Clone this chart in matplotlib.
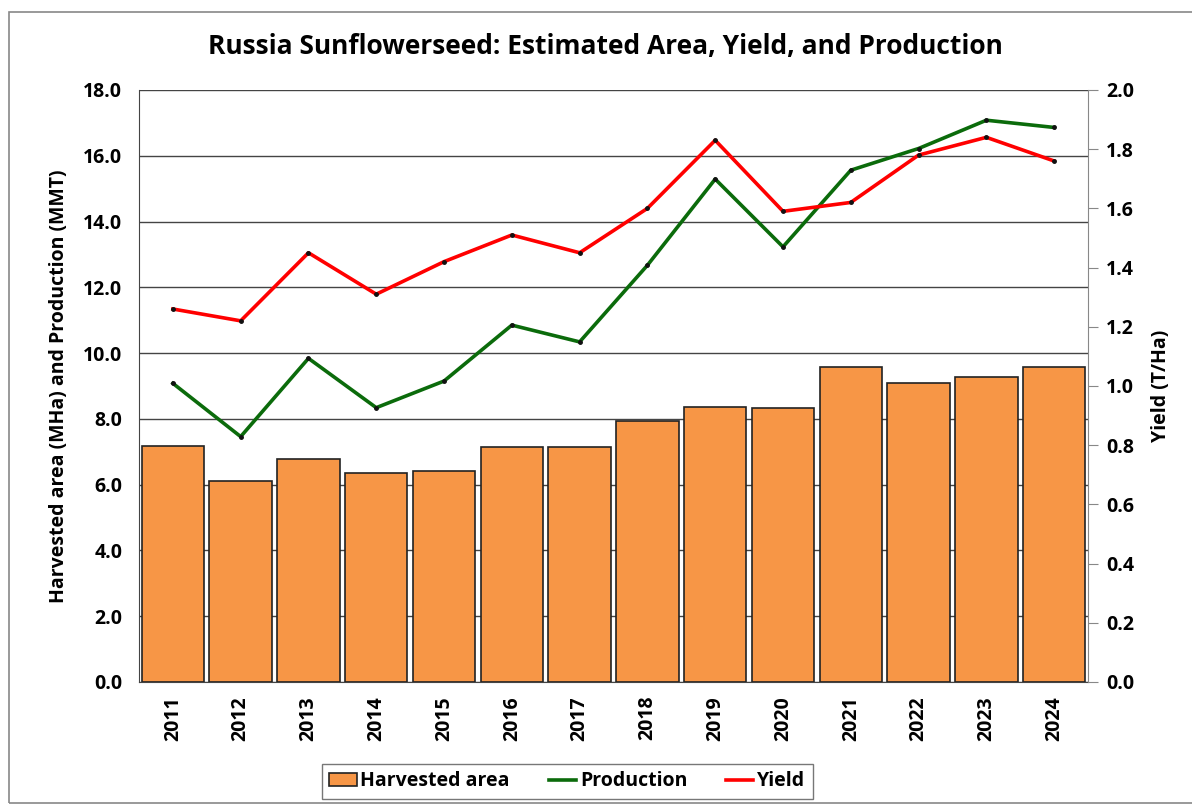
import numpy as np
import matplotlib.pyplot as plt
from matplotlib.patches import Rectangle
from matplotlib.lines import Line2D
from matplotlib.patches import Patch

plt.rcParams['font.family'] = ['Open Sans', 'DejaVu Sans']
plt.rcParams['font.weight'] = 'bold'

# Data
years = ["2011", "2012", "2013", "2014", "2015", "2016", "2017",
         "2018", "2019", "2020", "2021", "2022", "2023", "2024"]
area = [7.17, 6.12, 6.78, 6.35, 6.43, 7.15, 7.13,
        7.95, 8.35, 8.32, 9.58, 9.10, 9.26, 9.58]
production = [9.08, 7.46, 9.84, 8.34, 9.15, 10.85, 10.34,
              12.67, 15.29, 13.23, 15.56, 16.22, 17.08, 16.86]
yield_t_ha = [1.26, 1.22, 1.45, 1.31, 1.42, 1.51, 1.45,
              1.60, 1.83, 1.59, 1.62, 1.78, 1.84, 1.76]

left_ticks = np.arange(0, 18.1, 2.0)
right_ticks = np.arange(0, 2.01, 0.2)

fig = plt.figure(figsize=(11.92, 8.09), dpi=100)
ax = fig.add_axes([0.1166, 0.157, 0.7962, 0.7318])
x = np.arange(len(years))

# Bars for harvested area, line for production
ax.bar(x, area, width=0.92, color="#f79646", edgecolor="#222222",
       linewidth=1.2, zorder=2)
ax.plot(x, production, color="#0b6b0b", linewidth=2.6, zorder=3,
        marker="o", markersize=2.5, markerfacecolor="#111111",
        markeredgecolor="#111111")

ax.set_xlim(-0.5, len(years) - 0.5)
ax.set_ylim(0, 18)
ax.set_yticks(left_ticks)
ax.set_yticklabels([f"{v:.1f}" for v in left_ticks], fontsize=14, fontweight="bold")
ax.set_xticks(x)
ax.set_xticklabels(years, rotation=90, fontsize=14, fontweight="bold")
ax.tick_params(axis="x", length=0, pad=10)
ax.tick_params(axis="y", length=0, pad=12)
ax.yaxis.grid(True, color="#444444", linewidth=1.0, zorder=0)
ax.set_axisbelow(True)
for side in ["top", "right"]:
    ax.spines[side].set_visible(False)
ax.spines["left"].set_color("#444444")
ax.spines["bottom"].set_color("#444444")
ax.set_ylabel("Harvested area (MHa) and Production (MMT)", fontsize=14,
              fontweight="bold", labelpad=10)

# Yield on the secondary axis
ax2 = ax.twinx()
ax2.plot(x, yield_t_ha, color="#ff0000", linewidth=2.6, zorder=3,
         marker="o", markersize=2.5, markerfacecolor="#111111",
         markeredgecolor="#111111")
ax2.set_ylim(0, 2.0)
ax2.set_yticks(right_ticks)
ax2.set_yticklabels([f"{v:.1f}" for v in right_ticks], fontsize=14, fontweight="bold")
ax2.tick_params(axis="y", direction="out", length=7, color="#888888", pad=6)
for side in ["top", "left", "bottom"]:
    ax2.spines[side].set_visible(False)
ax2.spines["right"].set_color("#888888")
ax2.set_ylabel("Yield (T/Ha)", fontsize=14, fontweight="bold", labelpad=12)

fig.text(0.508, 0.943, "Russia Sunflowerseed: Estimated Area, Yield, and Production",
         ha="center", va="center", fontsize=19, fontweight="bold")

handles = [Patch(facecolor="#f79646", edgecolor="#222222", linewidth=1.2),
           Line2D([0], [0], color="#0b6b0b", linewidth=2.6),
           Line2D([0], [0], color="#ff0000", linewidth=2.6)]
leg = fig.legend(handles, ["Harvested area", "Production", "Yield"],
                 loc="center", bbox_to_anchor=(0.476, 0.034), ncol=3,
                 fontsize=14, frameon=True, fancybox=False,
                 handlelength=1.4, handletextpad=0.2, columnspacing=2.0,
                 borderpad=0.4)
leg.get_frame().set_edgecolor("#555555")
leg.get_frame().set_linewidth(1.0)
for t in leg.get_texts():
    t.set_fontweight("bold")

# Outer chart border
fig.patches.append(Rectangle((0.0076, 0.0074), 1.0, 0.9776, transform=fig.transFigure,
                             fill=False, edgecolor="#888888", linewidth=1.2))

fig.savefig("out.png", dpi=100)
